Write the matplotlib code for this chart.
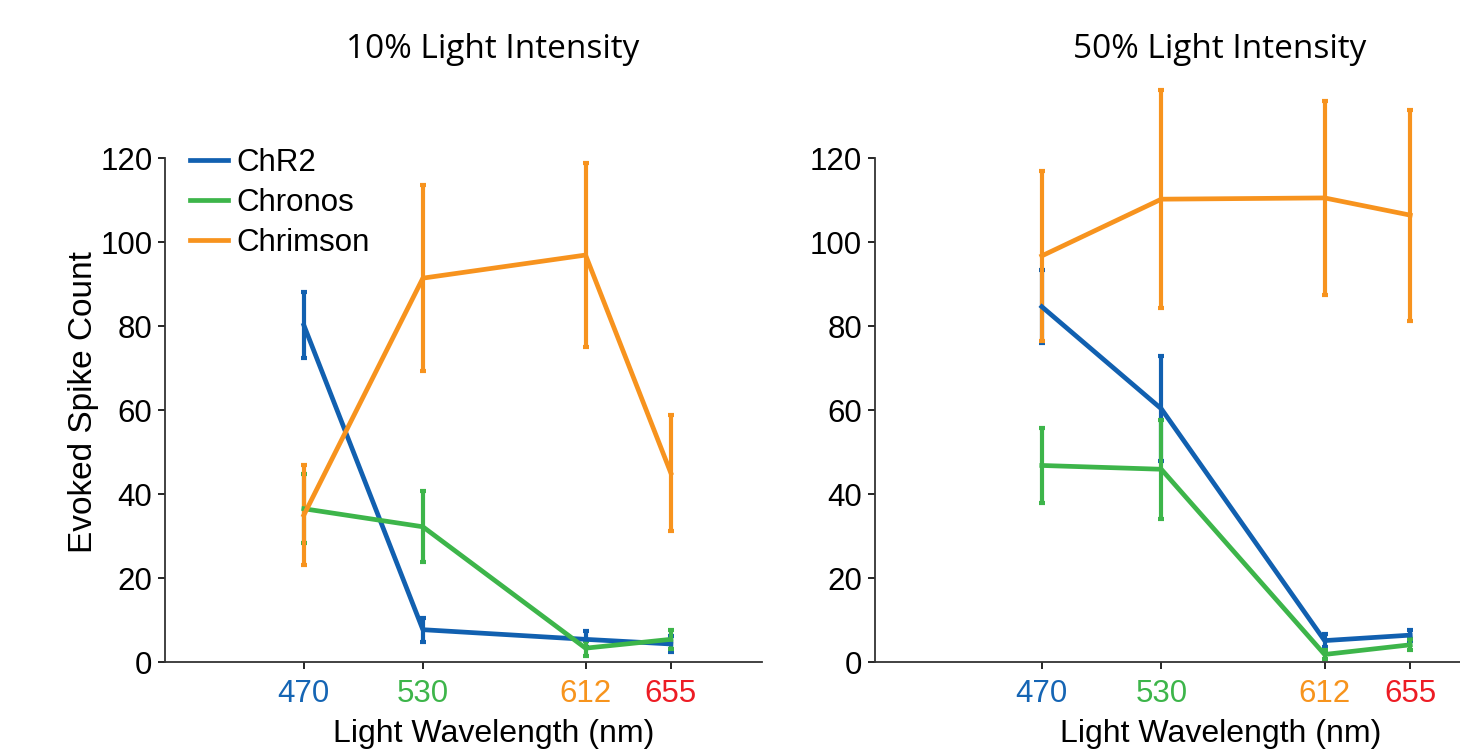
import numpy as np
import matplotlib.pyplot as plt

wavelengths = [470, 530, 612, 655]
tick_labels = ["470", "530", "612", "655"]
tick_colors = ["#1565b4", "#3db54a", "#f7941d", "#ed1c24"]

series_names = ["ChR2", "Chronos", "Chrimson"]
series_colors = ["#1160b0", "#3db54a", "#f7931e"]

# 10% light intensity
chr2_10 = [80.2, 7.7, 5.4, 4.3]
chr2_10_err = [7.8, 2.9, 1.9, 2.0]
chronos_10 = [36.5, 32.2, 3.3, 5.4]
chronos_10_err = [8.2, 8.5, 1.8, 2.3]
chrimson_10 = [35.0, 91.4, 96.9, 45.0]
chrimson_10_err = [12.0, 22.2, 22.0, 13.7]

# 50% light intensity
chr2_50 = [84.6, 60.3, 5.1, 6.4]
chr2_50_err = [8.7, 12.5, 1.5, 1.3]
chronos_50 = [46.8, 45.9, 1.8, 4.1]
chronos_50_err = [9.0, 11.8, 1.0, 1.3]
chrimson_50 = [96.7, 110.2, 110.5, 106.4]
chrimson_50_err = [20.2, 26.0, 23.0, 25.1]

plt.rcParams['font.family'] = ['Liberation Sans', 'DejaVu Sans']

fig = plt.figure(figsize=(14.6, 7.5), dpi=100)
ax1 = fig.add_axes([0.113, 0.1173, 0.409, 0.672])
ax2 = fig.add_axes([0.599, 0.1173, 0.401, 0.672])


def draw_panel(ax, data, xlim, xlabel_x):
    for (vals, errs), name, col in zip(data, series_names, series_colors):
        ax.errorbar(wavelengths, vals, yerr=errs, color=col, lw=3.4,
                    elinewidth=3.0, capsize=2, capthick=3.0, label=name,
                    clip_on=False)
    ax.set_xlim(*xlim)
    ax.set_ylim(0, 120)
    ax.set_yticks([0, 20, 40, 60, 80, 100, 120])
    ax.set_xticks(wavelengths)
    ax.set_xticklabels(tick_labels)
    for lab, c in zip(ax.get_xticklabels(), tick_colors):
        lab.set_color(c)
    ax.tick_params(axis='both', labelsize=22.5, length=5, width=1.2, direction='out')
    ax.tick_params(axis='x', pad=7)
    ax.tick_params(axis='y', pad=4)
    for s in ['top', 'right']:
        ax.spines[s].set_visible(False)
    for s in ['left', 'bottom']:
        ax.spines[s].set_linewidth(1.3)
        ax.spines[s].set_color('#333333')
    ax.set_xlabel('Light Wavelength (nm)', fontsize=23)
    ax.xaxis.set_label_coords(xlabel_x, -0.113)


draw_panel(ax1, [(chr2_10, chr2_10_err), (chronos_10, chronos_10_err),
                 (chrimson_10, chrimson_10_err)], (400, 701), 0.551)
draw_panel(ax2, [(chr2_50, chr2_50_err), (chronos_50, chronos_50_err),
                 (chrimson_50, chrimson_50_err)], (386, 680), 0.591)

ax1.set_ylabel('Evoked Spike Count', fontsize=24)
ax1.yaxis.set_label_coords(-0.11, 0.516)

handles = [plt.Line2D([], [], color=c, lw=3.4) for c in series_colors]
ax1.legend(handles, series_names, loc='upper left', bbox_to_anchor=(-0.005, 1.075),
           frameon=False, fontsize=22.5, handlelength=1.2, handletextpad=0.28,
           labelspacing=0.32)

fig.text(493 / 1460, 1 - 49 / 750, '10% Light Intensity', ha='center', va='center',
         fontsize=24, family=['Open Sans', 'DejaVu Sans'])
fig.text(1220 / 1460, 1 - 49 / 750, '50% Light Intensity', ha='center', va='center',
         fontsize=24, family=['Open Sans', 'DejaVu Sans'])

fig.savefig('out.png', dpi=100)
